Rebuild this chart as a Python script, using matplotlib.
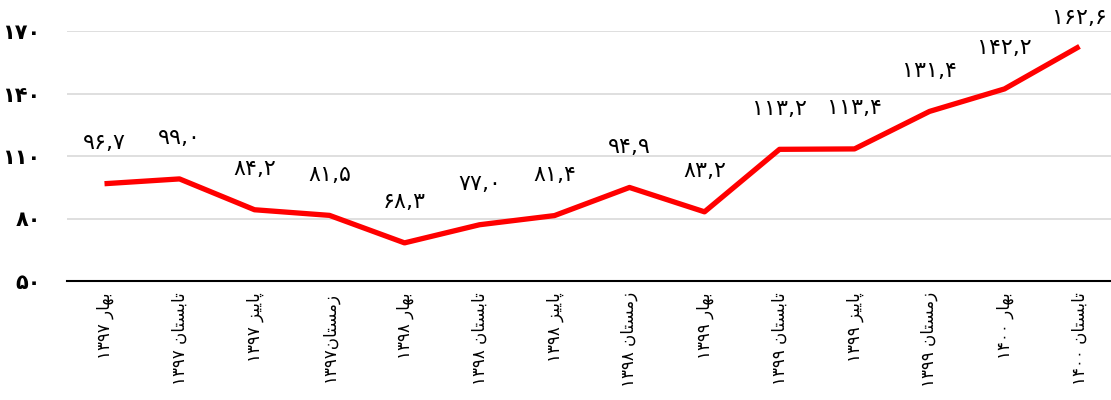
import numpy as np
import matplotlib
matplotlib.use("Agg")
import matplotlib.pyplot as plt

seasons = ["بهار", "تابستان", "پاییز", "زمستان",
           "بهار", "تابستان", "پاییز", "زمستان",
           "بهار", "تابستان", "پاییز", "زمستان",
           "بهار", "تابستان"]
years = ["1397", "1397", "1397", "1397",
         "1398", "1398", "1398", "1398",
         "1399", "1399", "1399", "1399",
         "1400", "1400"]
values = [96.7, 99.0, 84.2, 81.5, 68.3, 77.0, 81.4, 94.9, 83.2,
          113.2, 113.4, 131.4, 142.2, 162.6]
yticks = [50, 80, 110, 140, 170]

# arabic presentation forms: iso, fin, ini, med (None = right-joining only)
FORMS = {
    "ا": ("\uFE8D", "\uFE8E", None, None),
    "ب": ("\uFE8F", "\uFE90", "\uFE91", "\uFE92"),
    "ت": ("\uFE95", "\uFE96", "\uFE97", "\uFE98"),
    "ر": ("\uFEAD", "\uFEAE", None, None),
    "ز": ("\uFEAF", "\uFEB0", None, None),
    "س": ("\uFEB1", "\uFEB2", "\uFEB3", "\uFEB4"),
    "م": ("\uFEE1", "\uFEE2", "\uFEE3", "\uFEE4"),
    "ن": ("\uFEE5", "\uFEE6", "\uFEE7", "\uFEE8"),
    "ه": ("\uFEE9", "\uFEEA", "\uFEEB", "\uFEEC"),
    "پ": ("\uFB56", "\uFB57", "\uFB58", "\uFB59"),
    "ی": ("\uFBFC", "\uFBFD", "\uFBFE", "\uFBFF"),
}


def shape(word):
    out = []
    for i, ch in enumerate(word):
        iso, fin, ini, med = FORMS[ch]
        prev_joins = i > 0 and FORMS[word[i - 1]][2] is not None
        next_joins = i < len(word) - 1 and ini is not None
        if prev_joins and next_joins:
            out.append(med)
        elif prev_joins:
            out.append(fin)
        elif next_joins:
            out.append(ini)
        else:
            out.append(iso)
    return "".join(reversed(out))  # visual order


def fa_digits(s):
    return s.translate(str.maketrans("0123456789", "۰۱۲۳۴۵۶۷۸۹"))


xlabels = []
for i, (s, y) in enumerate(zip(seasons, years)):
    sep = "" if i == 3 else " "
    xlabels.append(fa_digits(y) + sep + shape(s))

plt.rcParams["font.family"] = ["DejaVu Sans"]

fig = plt.figure(figsize=(11.11, 4), dpi=100)
ax = fig.add_axes([67 / 1111, 119 / 400, 1050 / 1111, 250 / 400])

x = np.arange(len(values))
ax.plot(x, values, color="#FF0000", lw=3.8, solid_capstyle="butt", zorder=3)

label_y = np.minimum(np.array(values) + 19.5, 176.0)
for xi, v, ly in zip(x, values, label_y):
    ax.text(xi, ly, fa_digits(f"{v:.1f}".replace(".", ",")), ha="center",
            va="center", fontsize=16, color="black")

ax.set_ylim(50, 170)
ax.set_xlim(-0.5, len(values) - 0.5)
ax.set_yticks(yticks)
ax.set_yticklabels([fa_digits(str(t)) for t in yticks], fontsize=15,
                   fontweight="bold")
ax.set_xticks(x)
ax.set_xticklabels(xlabels, rotation=90, fontsize=12, va="top", ha="center")
ax.tick_params(axis="y", length=0, pad=19)
ax.tick_params(axis="x", length=0, pad=8)
ax.grid(axis="y", color="#D9D9D9", lw=1.2)
ax.set_axisbelow(True)
for side in ["left", "right", "top"]:
    ax.spines[side].set_visible(False)
ax.spines["bottom"].set_color("black")
ax.spines["bottom"].set_linewidth(1.5)
ax.spines["bottom"].set_zorder(4)

fig.savefig("out.png", dpi=100)
